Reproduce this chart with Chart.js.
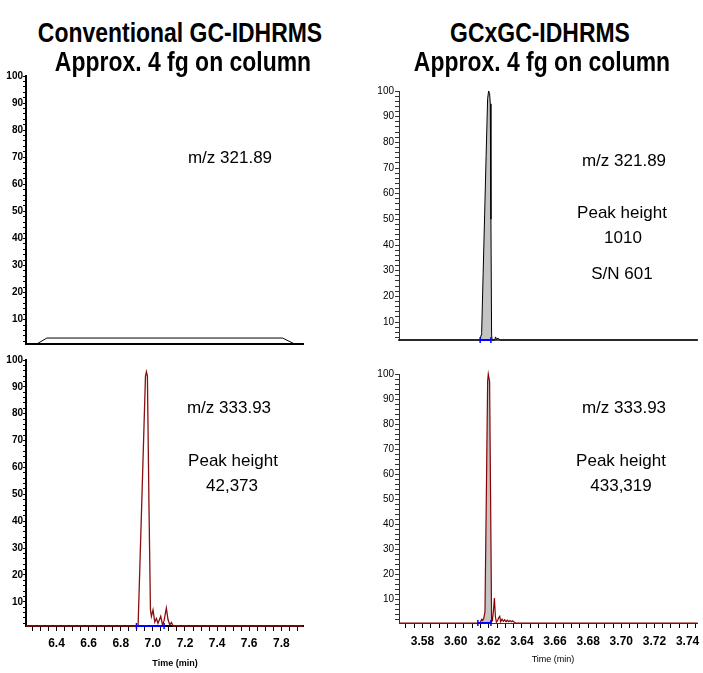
<!DOCTYPE html>
<html><head><meta charset="utf-8">
<script src="https://cdn.jsdelivr.net/npm/chart.js@4.4.0/dist/chart.umd.min.js"></script>
<style>
html,body{margin:0;padding:0;background:#fff;}
body{width:703px;height:673px;position:relative;overflow:hidden;font-family:"Liberation Sans",Arial,sans-serif;}
canvas{position:absolute;}
.t{position:absolute;white-space:nowrap;transform:translate(-50%,-50%);color:#000;line-height:1;}
.title{font-weight:bold;font-size:27px;transform:translate(-50%,-50%) scale(0.85,1);}
.ann{font-size:17px;}
.xt{font-size:9px;}
</style></head><body>
<canvas id="tl" width="320" height="280" style="left:0;top:70px"></canvas>
<canvas id="bl" width="320" height="323" style="left:0;top:350px"></canvas>
<canvas id="tr" width="343" height="280" style="left:360px;top:70px"></canvas>
<canvas id="br" width="343" height="323" style="left:360px;top:350px"></canvas>

<div class="t title" style="left:180px;top:33px">Conventional GC-IDHRMS</div>
<div class="t title" style="left:183px;top:62px">Approx. 4 fg on column</div>
<div class="t title" style="left:540px;top:33px">GCxGC-IDHRMS</div>
<div class="t title" style="left:542px;top:62px">Approx. 4 fg on column</div>

<div class="t ann" style="left:230px;top:157px">m/z 321.89</div>
<div class="t ann" style="left:624px;top:160px">m/z 321.89</div>
<div class="t ann" style="left:622px;top:212px">Peak height</div>
<div class="t ann" style="left:623px;top:237px">1010</div>
<div class="t ann" style="left:622px;top:273px">S/N 601</div>
<div class="t ann" style="left:229px;top:407px">m/z 333.93</div>
<div class="t ann" style="left:233px;top:460px">Peak height</div>
<div class="t ann" style="left:232px;top:485px">42,373</div>
<div class="t ann" style="left:624px;top:407px">m/z 333.93</div>
<div class="t ann" style="left:621px;top:460px">Peak height</div>
<div class="t ann" style="left:621px;top:485px">433,319</div>

<div class="t xt" style="left:175px;top:663px;font-weight:bold">Time (min)</div>
<div class="t xt" style="left:553px;top:659px">Time (min)</div>

<script>
// ---------- data ----------
// Conventional GC-IDHRMS, m/z 321.89 (top left)
const tlTime      = [6.21, 6.277, 6.34, 7.808, 7.883, 7.935];
const tlIntensity = [1, 1, 3.2, 3.2, 1, 1];

// Conventional GC-IDHRMS, m/z 333.93 (bottom left)
const blTime      = [6.21, 6.898, 6.908, 6.93, 6.954, 6.960, 6.966, 6.976, 6.985, 6.991, 7.001, 7.012, 7.022, 7.032, 7.049, 7.060, 7.070, 7.084, 7.094, 7.105, 7.116, 7.126, 7.935];
const blIntensity = [1, 1, 1, 45, 94, 95.6, 94, 45, 7, 4.6, 7, 2.5, 3.8, 2, 4.6, 1.5, 3, 7.7, 3.5, 1.5, 2.3, 1, 1];
const blIntegration = [6.898, 7.070];

// GCxGC-IDHRMS, m/z 321.89 (top right)
const trTime      = [3.5658, 3.6148, 3.6154, 3.6157, 3.6166, 3.6175, 3.6184, 3.6193, 3.6199, 3.6205, 3.6209, 3.6213, 3.6217, 3.6220, 3.6236, 3.6241, 3.6247, 3.6255, 3.6262, 3.6270, 3.746];
const trIntensity = [3, 3, 5, 6, 29, 52, 75, 97, 100, 99, 95, 50, 5, 3, 3, 4.2, 3.2, 3.8, 3.2, 3, 3];
const trIntegration = [3.6148, 3.6213];

// GCxGC-IDHRMS, m/z 333.93 (bottom right)
const brTime      = [3.5658, 3.6134, 3.6148, 3.6157, 3.6163, 3.6170, 3.6177, 3.6185, 3.6193, 3.6197,
                     3.6205, 3.6211, 3.6217, 3.6222, 3.6229, 3.6234, 3.6240, 3.6246, 3.6253, 3.6260,
                     3.6266, 3.6272, 3.6280, 3.6288, 3.6296, 3.6304, 3.6312, 3.6320, 3.6328, 3.6336,
                     3.6344, 3.6352, 3.6362, 3.746];
const brIntensity = [0.5, 0.5, 0.8, 2, 1.5, 2.5, 5, 50, 97, 100,
                     97, 50, 1, 1.5, 6, 10.5, 3, 0.8, 1.5, 2.6,
                     3.2, 1, 2, 1.2, 1.8, 1, 1.6, 1, 1.5, 1,
                     1.4, 0.9, 0.5, 0.5];
const brIntegration = [3.6134, 3.6213];

// tick labels
const leftTimeLabels  = [6.4, 6.6, 6.8, 7.0, 7.2, 7.4, 7.6, 7.8];
const rightTimeLabels = [3.58, 3.60, 3.62, 3.64, 3.66, 3.68, 3.70, 3.72, 3.74];
const intensityLabels = [10, 20, 30, 40, 50, 60, 70, 80, 90, 100];

// ---------- helpers ----------
function steps(a, b, step) {
  const out = [];
  for (let k = Math.ceil(a / step - 1e-7); k * step <= b + 1e-7; k++) out.push(+(k * step).toFixed(6));
  return out;
}
function isIn(list, v) { return list.some(m => Math.abs(m - v) < 1e-6); }
function xy(t, v) { return t.map((x, i) => ({x: x, y: v[i]})); }

const NARROW = '"Liberation Sans Narrow", "Arial Narrow", "Liberation Sans", Arial, sans-serif';
const SANS = '"Liberation Sans", Arial, sans-serif';

function build(id, c) {
  const datasets = [];
  if (c.integ) {
    datasets.push({
      data: [{x: c.integ[0], y: c.ymin}, {x: c.integ[1], y: c.ymin}],
      borderColor: '#0000ff', borderWidth: 2, pointStyle: 'line', rotation: 90,
      pointRadius: 3, pointBorderColor: '#0000ff', pointBorderWidth: 1.5, clip: false
    });
  }
  datasets.push({
    data: xy(c.time, c.intensity), borderColor: c.color, borderWidth: c.lw,
    pointRadius: 0, tension: 0, fill: false, clip: false
  });
  if (c.integ && c.shade) {
    const pts = xy(c.time, c.intensity).filter(p => p.x >= c.integ[0] - 1e-9 && p.x <= c.shadeEnd + 1e-9);
    datasets.push({
      data: pts, borderWidth: 0, borderColor: 'rgba(0,0,0,0)', pointRadius: 0,
      backgroundColor: '#c4c4c4', fill: 'start', tension: 0
    });
  }
  return new Chart(document.getElementById(id), {
    type: 'line',
    data: {datasets: datasets},
    options: {
      responsive: false, animation: false, devicePixelRatio: 1,
      layout: {padding: c.pad},
      plugins: {legend: {display: false}, tooltip: {enabled: false}},
      scales: {
        x: {
          type: 'linear', min: c.xmin, max: c.xmax,
          afterBuildTicks: s => { s.ticks = steps(c.xmin, c.xmax, c.xstep).map(v => ({value: v})); },
          afterFit: s => { s.height = c.xh; },
          ticks: {
            display: c.xLabels, autoSkip: false, maxRotation: 0, minRotation: 0,
            font: c.xFont, color: '#000', padding: c.xPad,
            callback: v => isIn(c.xMajor, v) ? v.toFixed(c.xDec) : ''
          },
          grid: {display: c.xLabels, drawOnChartArea: false, drawTicks: true, tickLength: 5, tickColor: '#000', tickWidth: 1},
          border: {display: true, color: c.xBorder, width: c.xBorderW}
        },
        y: {
          type: 'linear', min: c.ymin, max: 100,
          afterBuildTicks: s => { s.ticks = steps(c.ymin + 0.5, 100, 2).map(v => ({value: v})); },
          afterFit: s => { s.width = c.yw; },
          ticks: {
            autoSkip: false, font: c.yFont, color: '#000', padding: c.yPad,
            callback: v => isIn(intensityLabels, v) ? String(v) : ''
          },
          grid: {drawOnChartArea: false, drawTicks: true, tickLength: c.yTick, tickColor: c.yBorder, tickWidth: 1},
          border: {display: true, color: c.yBorder, width: c.yBorderW}
        }
      }
    }
  });
}

const leftCommon = {
  xmin: 6.21, xmax: 7.935, xstep: 0.05, xMajor: leftTimeLabels, xDec: 1,
  xFont: {family: NARROW, size: 12, weight: 'bold'}, xPad: 5,
  yFont: {family: NARROW, size: 10, weight: 'bold'}, yPad: 0, yTick: 3,
  yw: 26, yBorder: '#000', yBorderW: 2, xBorder: '#000', xBorderW: 2
};
const rightCommon = {
  xmin: 3.5658, xmax: 3.746, xstep: 0.005, xMajor: rightTimeLabels, xDec: 2,
  xFont: {family: SANS, size: 12, weight: 'bold'}, xPad: 6,
  yFont: {family: NARROW, size: 10}, yPad: 1, yTick: 4,
  yw: 39, yBorder: '#333', yBorderW: 1
};

build('tl', Object.assign({}, leftCommon, {
  time: tlTime, intensity: tlIntensity, color: '#000', lw: 1, ymin: 1,
  xLabels: false, xh: 0, pad: {top: 6, right: 17, bottom: 6, left: 0}
}));
build('bl', Object.assign({}, leftCommon, {
  time: blTime, intensity: blIntensity, color: '#8b1010', lw: 1.3, ymin: 1,
  integ: blIntegration, shade: false,
  xLabels: true, xh: 40, pad: {top: 10, right: 17, bottom: 7, left: 0}
}));
build('tr', Object.assign({}, rightCommon, {
  time: trTime, intensity: trIntensity, color: '#000', lw: 1, ymin: 3,
  integ: trIntegration, shade: true, shadeEnd: 3.6217,
  xLabels: false, xh: 0, xBorder: '#555', xBorderW: 2, pad: {top: 21, right: 0, bottom: 10, left: 0}
}));
build('br', Object.assign({}, rightCommon, {
  time: brTime, intensity: brIntensity, color: '#8b0000', lw: 1.2, ymin: 0.5,
  integ: brIntegration, shade: true, shadeEnd: 3.6217,
  xLabels: true, xh: 42, xBorder: '#333', xBorderW: 1, pad: {top: 24, right: 0, bottom: 8, left: 0}
}));
</script>
</body></html>
